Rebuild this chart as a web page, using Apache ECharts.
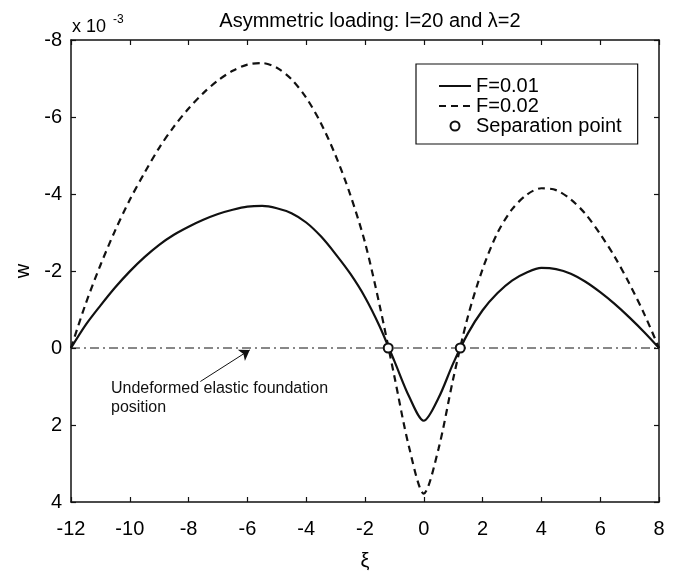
<!DOCTYPE html>
<html>
<head>
<meta charset="utf-8">
<script src="https://cdn.jsdelivr.net/npm/echarts@6/dist/echarts.min.js"></script>
<style>
	html, body { margin: 0; padding: 0; background: #fff; }
	#chart { width: 679px; height: 572px; }
</style>
</head>
<body>
<div id="chart"></div>
<script>
	/* positions along the beam (xi) */
	var xi = [-12, -11.5, -11, -10.5, -10, -9.5, -9, -8.5, -8, -7.5, -7, -6.5, -6, -5.5, -5, -4.5, -4, -3.5, -3, -2.5, -2, -1.5, -1, -0.5,
		0, 0.5, 1, 1.5, 2, 2.5, 3, 3.5, 4, 4.5, 5, 5.5, 6, 6.5, 7, 7.5, 8];
	/* deflection w, in units of 1e-3 */
	var wF1 = [0, -0.60, -1.10, -1.57, -1.99, -2.36, -2.68, -2.94, -3.15, -3.33, -3.48, -3.59, -3.67, -3.69, -3.63, -3.50, -3.26, -2.90, -2.44, -1.93, -1.32, -0.56, 0.34, 1.26,
		1.89, 1.30, 0.40, -0.38, -0.98, -1.42, -1.75, -1.96, -2.08, -2.05, -1.93, -1.72, -1.45, -1.14, -0.79, -0.41, 0];
	var wF2 = [0, -1.15, -2.15, -3.05, -3.85, -4.55, -5.20, -5.75, -6.22, -6.62, -6.95, -7.20, -7.36, -7.40, -7.28, -6.98, -6.50, -5.84, -5.00, -3.98, -2.74, -1.10, 0.74, 2.58,
		3.78, 2.62, 0.80, -0.82, -2.05, -2.98, -3.60, -3.98, -4.15, -4.10, -3.86, -3.48, -2.96, -2.36, -1.66, -0.88, 0];
	/* separation points */
	var sepXi = [-1.21, 1.24];
	var sepW = [0, 0];
	/* ticks */
	var xTickStep = 2;
	var yTickStep = 2;

	var font = 'Liberation Sans, Arial, sans-serif';

	function pairs(xs, ys) {
		return xs.map(function(x, i) { return [x, ys[i]]; });
	}

	var axisCommon = {
		axisLine: { show: true, onZero: false, lineStyle: { color: '#111', width: 1.5 } },
		axisTick: { show: true, inside: true, length: 5, lineStyle: { color: '#111', width: 1.2 } },
		splitLine: { show: false }
	};

	var option = {
		backgroundColor: '#fff',
		animation: false,
		title: {
			text: 'Asymmetric loading: l=20 and \u03bb=2',
			left: 365,
			textAlign: 'center',
			top: 6,
			textStyle: { fontFamily: font, fontSize: 20, fontWeight: 'normal', color: '#000' }
		},
		grid: { left: 71, right: 20, top: 40, bottom: 70, outerBoundsMode: 'none' },
		legend: {
			orient: 'vertical',
			left: 416,
			top: 64,
			padding: [12, 16, 8, 22],
			itemGap: 0,
			itemWidth: 32,
			itemHeight: 9,
			borderColor: '#111',
			borderWidth: 1.2,
			backgroundColor: '#fff',
			textStyle: { fontFamily: font, fontSize: 20, color: '#000', lineHeight: 20 },
			data: [
				{ name: 'F=0.01', itemStyle: { opacity: 0 } },
				{ name: 'F=0.02', itemStyle: { opacity: 0 } },
				{ name: 'Separation point', itemStyle: { opacity: 1 } }
			]
		},
		xAxis: [
			Object.assign({
				type: 'value', min: -12, max: 8, interval: xTickStep, position: 'bottom',
				name: '\u03be', nameLocation: 'middle', nameGap: 49,
				nameTextStyle: { fontFamily: font, fontSize: 20, color: '#000' },
				axisLabel: { fontFamily: font, fontSize: 20, color: '#000', margin: 17 }
			}, axisCommon),
			Object.assign({
				type: 'value', min: -12, max: 8, interval: xTickStep, position: 'top',
				axisLabel: { show: false }
			}, axisCommon)
		],
		yAxis: [
			Object.assign({
				type: 'value', min: -8, max: 4, interval: yTickStep, inverse: true, position: 'left',
				name: 'w', nameLocation: 'middle', nameGap: 38, nameRotate: 90,
				nameTextStyle: { fontFamily: font, fontSize: 20, color: '#000' },
				axisLabel: { fontFamily: font, fontSize: 20, color: '#000', margin: 9 }
			}, axisCommon),
			Object.assign({
				type: 'value', min: -8, max: 4, interval: yTickStep, inverse: true, position: 'right',
				axisLabel: { show: false }
			}, axisCommon)
		],
		graphic: [
			{ type: 'text', left: 72, top: 18, style: { text: 'x 10', fontFamily: font, fontSize: 18, fill: '#000' } },
			{ type: 'text', left: 113, top: 14, style: { text: '-3', fontFamily: font, fontSize: 12, fill: '#000' } },
			{
				type: 'text', left: 111, top: 379,
				style: { text: 'Undeformed elastic foundation\nposition', fontFamily: font, fontSize: 16, lineHeight: 19, fill: '#111' }
			}
		],
		series: [
			{
				name: 'zero',
				type: 'line',
				data: pairs([-12, 8], [0, 0]),
				symbol: 'none',
				silent: true,
				lineStyle: { color: '#111', width: 1, type: [9, 4, 2, 4] },
				markLine: {
					silent: true,
					animation: false,
					label: { show: false },
					lineStyle: { color: '#111', width: 1, type: 'solid' },
					data: [[
						{ coord: [-7.6, 0.87], symbol: 'none' },
						{ coord: [-5.92, 0.05], symbol: 'arrow', symbolSize: 10 }
					]]
				}
			},
			{
				name: 'F=0.01',
				type: 'line',
				data: pairs(xi, wF1),
				smooth: 0.3,
				symbol: 'none',
				lineStyle: { color: '#111', width: 2.2, type: 'solid' },
				itemStyle: { color: '#111' }
			},
			{
				name: 'F=0.02',
				type: 'line',
				data: pairs(xi, wF2),
				smooth: 0.3,
				symbol: 'none',
				lineStyle: { color: '#111', width: 2.2, type: [7, 5] },
				itemStyle: { color: '#111' }
			},
			{
				name: 'Separation point',
				type: 'scatter',
				data: pairs(sepXi, sepW),
				symbol: 'emptyCircle',
				symbolSize: 9,
				z: 5,
				itemStyle: { color: '#111', borderColor: '#111', borderWidth: 1.8, opacity: 1 }
			}
		]
	};

	var chart = echarts.init(document.getElementById('chart'));
	chart.setOption(option);
</script>
</body>
</html>
